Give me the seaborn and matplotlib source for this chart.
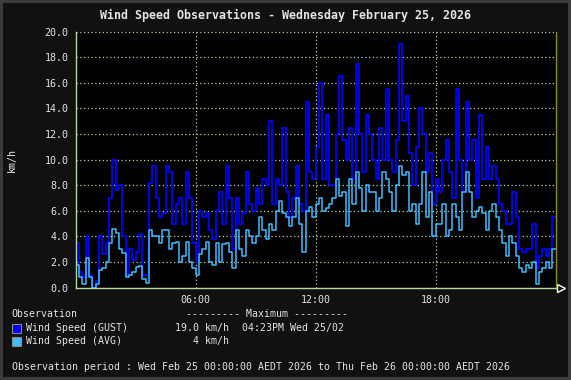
import numpy as np
import pandas as pd
import seaborn as sns
import matplotlib.pyplot as plt
from matplotlib.patches import Rectangle

# 10-minute readings, 00:00 -> 23:50
gust = [3.5, 1.2, 0.8, 4.0, 1.0, 0.0, 0.5, 4.0, 2.6, 3.6, 7.0, 10.0, 7.6, 8.0, 4.0, 1.0, 3.0, 2.2,
        2.8, 4.2, 1.0, 1.0, 8.2, 9.5, 7.0, 5.5, 5.8, 9.5, 9.0, 5.0, 6.5, 7.0, 5.0, 9.0, 7.0, 3.5,
        2.0, 6.0, 5.5, 5.8, 4.5, 3.8, 6.0, 7.5, 5.0, 9.5, 7.0, 3.0, 7.0, 5.0, 5.8, 9.0, 6.5, 6.0,
        7.8, 6.5, 8.5, 8.0, 13.0, 6.5, 8.5, 8.0, 12.5, 7.5, 5.5, 7.0, 9.5, 6.5, 6.0, 14.5, 9.0, 8.5,
        11.0, 16.0, 8.5, 13.5, 8.0, 8.0, 12.0, 16.5, 11.5, 10.0, 12.5, 8.5, 17.5, 12.0, 9.0, 13.5, 12.0, 10.0,
        8.5, 12.5, 10.0, 15.5, 10.0, 9.0, 11.5, 19.0, 13.0, 15.0, 10.5, 8.0, 11.0, 14.0, 12.0, 9.0, 10.5, 6.5,
        8.5, 7.5, 10.0, 11.5, 9.0, 7.0, 15.5, 10.0, 7.5, 14.5, 10.0, 11.5, 7.0, 13.5, 8.5, 11.0, 8.5, 9.5,
        8.5, 6.5, 6.0, 5.0, 5.0, 7.5, 5.5, 3.0, 2.8, 3.0, 3.0, 5.0, 1.5, 2.5, 3.0, 2.5, 3.0, 5.5]
avg = [1.8, 0.8, 0.3, 2.3, 0.8, 0.0, 0.3, 1.4, 1.5, 2.0, 3.5, 4.6, 4.3, 3.0, 2.7, 0.8, 1.0, 1.2,
       1.6, 1.7, 0.7, 0.4, 4.5, 4.0, 4.0, 3.5, 4.5, 4.5, 3.0, 3.5, 3.6, 2.0, 2.5, 3.6, 2.0, 1.5,
       1.0, 2.6, 3.0, 3.6, 2.0, 1.8, 3.5, 2.0, 3.4, 3.5, 2.8, 1.5, 4.5, 3.0, 2.5, 4.5, 4.0, 3.5,
       4.0, 5.5, 4.5, 3.8, 5.0, 4.5, 6.0, 6.8, 5.8, 5.5, 4.8, 5.5, 7.0, 5.0, 2.8, 6.0, 6.3, 5.5,
       6.5, 7.0, 6.0, 6.2, 6.5, 7.0, 8.5, 7.2, 7.5, 4.8, 8.5, 6.5, 9.0, 7.8, 6.0, 8.0, 7.5, 7.5,
       6.0, 7.0, 9.0, 8.5, 7.5, 6.0, 8.0, 9.5, 8.8, 9.0, 6.0, 6.5, 5.0, 6.5, 9.0, 5.5, 7.5, 4.0,
       5.0, 5.0, 6.5, 4.0, 4.5, 6.5, 5.5, 4.5, 7.5, 9.0, 7.5, 5.5, 6.0, 6.3, 5.8, 4.5, 6.0, 6.5,
       5.5, 4.5, 3.5, 2.5, 4.0, 3.5, 2.5, 1.5, 1.2, 1.8, 1.5, 2.0, 0.3, 1.2, 1.5, 2.0, 1.5, 3.0]
hour_ticks = [6, 12, 18]
hour_labels = ["06:00", "12:00", "18:00"]
y_ticks = [0, 2, 4, 6, 8, 10, 12, 14, 16, 18, 20]

GUST_C = "#0000ff"
AVG_C = "#40bcff"
GRID_C = "#b8d8a0"
TXT_C = "#e4e4e4"

hours = np.arange(len(gust)) / 6.0
# repeat last reading so the step runs to midnight
df = pd.DataFrame({"hour": np.append(hours, 24.0),
                   "gust": gust + [gust[-1]],
                   "avg": avg + [avg[-1]]})

sns.set_theme(style="dark")
plt.rcParams["font.family"] = ["DejaVu Sans Mono"]

fig = plt.figure(figsize=(5.71, 3.80), dpi=100, facecolor="#111111",
                 edgecolor="#3c3c3c", linewidth=3)
ax = fig.add_axes([0.1324, 0.2429, 0.8406, 0.6737])
ax.set_facecolor("black")

sns.lineplot(data=df, x="hour", y="gust", ax=ax, color=GUST_C, lw=1.3,
             drawstyle="steps-post")
sns.lineplot(data=df, x="hour", y="avg", ax=ax, color=AVG_C, lw=1.1,
             drawstyle="steps-post")

ax.set_xlim(0, 24)
ax.set_ylim(0, 20)
ax.set_xticks(hour_ticks)
ax.set_xticklabels(hour_labels)
ax.set_yticks(y_ticks)
ax.set_yticklabels([f"{v:.1f}" for v in y_ticks])
ax.set_xlabel("")
ax.set_ylabel("")
ax.grid(True, color=GRID_C, linestyle=(0, (1, 2)), linewidth=0.9)
ax.tick_params(colors=TXT_C, labelsize=7.2, length=3, width=0.8, pad=2)
ax.tick_params(axis="both", color=GRID_C)
ax.spines["top"].set_visible(False)
ax.spines["left"].set_color(GRID_C)
ax.spines["bottom"].set_color(GRID_C)
ax.spines["right"].set_color("#8a8a2a")
for s in ["left", "bottom", "right"]:
    ax.spines[s].set_linewidth(1)
ax.plot(1.012, 0, marker=">", transform=ax.transAxes, clip_on=False,
        ms=6, mfc="none", mec="white", mew=1)

fig.text(0.5, 1 - 15 / 380, "Wind Speed Observations - Wednesday February 25, 2026",
         ha="center", va="center", color=TXT_C, fontsize=8.4, fontweight="bold")
fig.text(12 / 571, 1 - 160 / 380, "km/h", rotation=90, ha="center", va="center",
         color=TXT_C, fontsize=7.2)

def ftext(x, y, s, **kw):
    fig.text(x / 571, 1 - y / 380, s, va="center", color=TXT_C, fontsize=7.1, **kw)

ftext(11.5, 314, "Observation")
ftext(186.5, 314, "--------- Maximum ---------")
ftext(26.5, 328, "Wind Speed (GUST)")
ftext(229, 328, "19.0 km/h", ha="right")
ftext(241.5, 328, "04:23PM Wed 25/02")
ftext(26.5, 341, "Wind Speed (AVG)")
ftext(229, 341, "4 km/h", ha="right")
ftext(11.5, 367, "Observation period : Wed Feb 25 00:00:00 AEDT 2026 to Thu Feb 26 00:00:00 AEDT 2026")

for y0, c in [(328, GUST_C), (341, AVG_C)]:
    fig.patches.append(Rectangle((12 / 571, 1 - (y0 + 4.5) / 380), 9 / 571, 9 / 380,
                                 transform=fig.transFigure, facecolor=c,
                                 edgecolor="#888888", lw=0.8))

fig.savefig("out.png", dpi=100, facecolor=fig.get_facecolor(),
            edgecolor=fig.get_edgecolor())
